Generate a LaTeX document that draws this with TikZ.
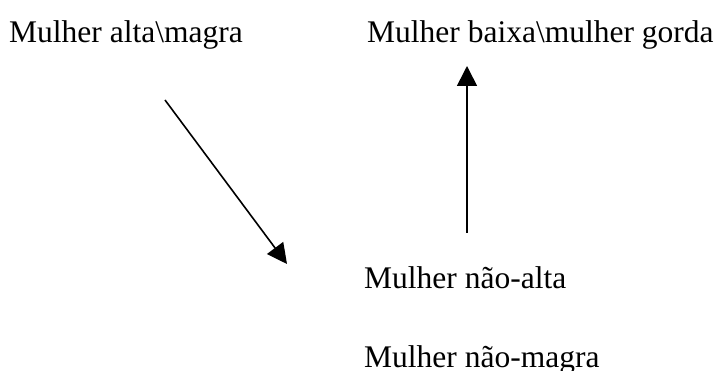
\documentclass[tikz,border=0pt]{standalone}
\usepackage{fontspec}
\setmainfont{Liberation Serif}
\usetikzlibrary{arrows.meta}
\begin{document}
\begin{tikzpicture}[x=1pt,y=-1pt,
  label/.style={anchor=base west,inner sep=0pt,font=\fontsize{31.5}{38}\selectfont},
  link/.style={line width=1.6pt,-{Triangle[length=20pt,width=20pt]}}]
  \fill[white] (0,0) rectangle (723,371);
  \useasboundingbox (0,0) rectangle (723,371);
  % labels
  \node[label] (altamagra) at (9,43) {Mulher alta\textbackslash magra};
  \node[label] (baixagorda) at (367,43) {Mulher baixa\textbackslash mulher gorda};
  \node[label] (naoalta) at (364,289) {Mulher não-alta};
  \node[label] (naomagra) at (364,367) {Mulher não-magra};
  % arrow ends
  \coordinate (d1) at (165,100);
  \coordinate (d2) at (287,264);
  \coordinate (v1) at (467,233);
  \coordinate (v2) at (467,66);
  \draw[link] (d1) -- (d2);
  \draw[link] (v1) -- (v2);
\end{tikzpicture}
\end{document}
